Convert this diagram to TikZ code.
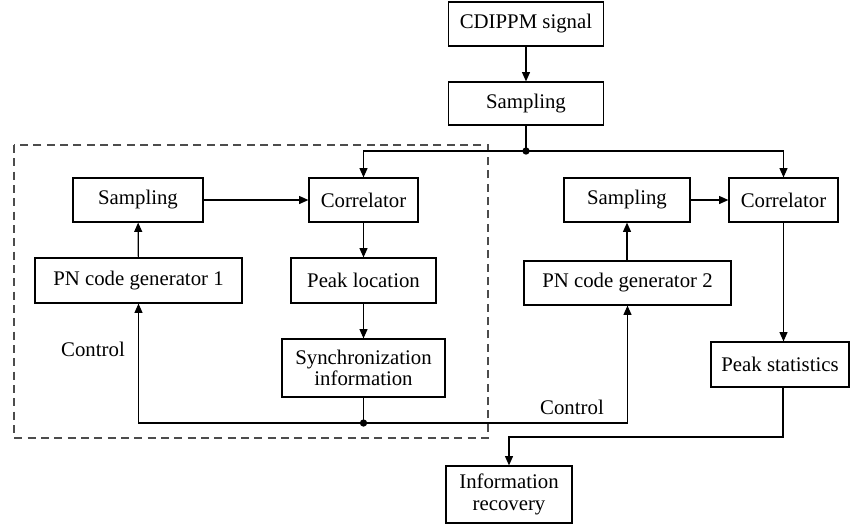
\documentclass[tikz,border=0pt]{standalone}
\usepackage{fontspec}
\setmainfont{Liberation Serif}
\usetikzlibrary{arrows.meta,calc}
\begin{document}
\begin{tikzpicture}[x=0.75pt,y=-0.75pt,
  font=\fontsize{15.6}{18}\selectfont,
  box/.style={draw, line width=0.9pt, inner sep=0pt, align=center},
  wire/.style={line width=0.9pt},
  flow/.style={wire, -{Triangle[length=7pt,width=6pt]}},
  dot/.style={circle, fill, inner sep=0pt, minimum size=5.5pt}]
\useasboundingbox (0,0) rectangle (850,529);

% group of blocks on the left
\draw[dashed, line width=0.8pt, black!70, dash pattern=on 6pt off 4pt] (14,145) rectangle (488,438);

% blocks
\node[box, minimum width=116.25pt, minimum height=33pt] (sig) at (526,24) {CDIPPM signal};
\node[box, minimum width=116.25pt, minimum height=32.25pt] (samp0) at (526,103.5) {Sampling};
\node[box, minimum width=97.5pt, minimum height=33pt] (sampA) at (138,200) {Sampling};
\node[box, minimum width=81.75pt, minimum height=33pt] (corrA) at (363.5,200) {Correlator};
\node[box, minimum width=155.25pt, minimum height=33.75pt] (pnA) at (138.5,280.5) {PN code generator 1};
\node[box, minimum width=108.75pt, minimum height=33.75pt] (peakloc) at (363.5,280.5) {Peak location};
\node[box, minimum width=122.25pt, minimum height=43.5pt] (sync) at (363.5,368) {Synchronization\\[-2pt]information};
\node[box, minimum width=94.5pt, minimum height=33pt] (sampB) at (627,200) {Sampling};
\node[box, minimum width=81.75pt, minimum height=33pt] (corrB) at (783.5,200) {Correlator};
\node[box, minimum width=155.25pt, minimum height=33pt] (pnB) at (627.5,283) {PN code generator 2};
\node[box, minimum width=103.5pt, minimum height=33.75pt] (peakstat) at (780,364.5) {Peak statistics};
\node[box, minimum width=94.5pt, minimum height=42.75pt] (info) at (509,494.5) {Information\\[-2pt]recovery};

% labels
\node (ctlA) at (93,349) {Control};
\node (ctlB) at (572,407) {Control};

% junction points
\coordinate (J1) at (samp0.south |- 0,151);
\coordinate (J2) at (sync.south |- 0,423);
\coordinate (R) at (783,437);

% connectors
\draw[flow] (sig) -- (samp0);
\draw[wire] (samp0.south) -- (J1);
\draw[flow] (J1) -| (corrA.north);
\draw[flow] (J1) -| (corrB.north);
\draw[flow] (sampA) -- (corrA);
\draw[flow] (sampB) -- (corrB);
\draw[flow] (pnA) -- (sampA);
\draw[flow] (pnB.north -| sampB) -- (sampB);
\draw[flow] (corrA) -- (peakloc);
\draw[flow] (peakloc) -- (sync);
\draw[wire] (sync.south) -- (J2);
\draw[flow] (J2) -| (pnA.south);
\draw[flow] (J2) -| (pnB.south);
\draw[flow] (corrB.south) -- (corrB.south |- peakstat.north);
\draw[flow] (peakstat.south -| R) -- (R) -| (info.north);

\node[dot] at (J1) {};
\node[dot] at (J2) {};
\end{tikzpicture}
\end{document}
